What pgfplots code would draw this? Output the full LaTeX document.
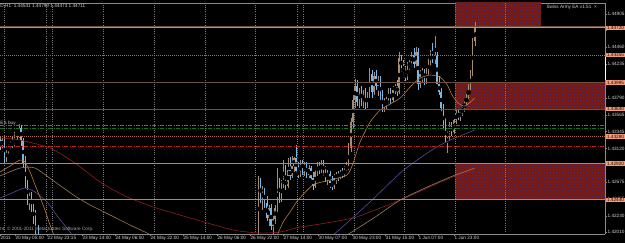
\documentclass[border=0pt]{standalone}
\usepackage{fontspec}
\setmainfont{Liberation Sans}
\usepackage{pgfplots}
\pgfplotsset{compat=1.18}
\usepackage{pgfplotstable}
\usetikzlibrary{patterns}

\definecolor{bull}{HTML}{A88C70}
\definecolor{bear}{HTML}{78B8E8}
\definecolor{axisgray}{HTML}{8A8A8A}
\definecolor{ticktext}{HTML}{D0D0D0}
\definecolor{gridgray}{HTML}{7A7A7A}
\definecolor{zonered}{HTML}{7A180C}
\definecolor{zonedot}{HTML}{34369A}
\definecolor{lvlbrown}{HTML}{6E4E3C}
\definecolor{lvlsalmon}{HTML}{B48472}
\definecolor{lvlorange}{HTML}{B06A38}
\definecolor{lvlgreen}{HTML}{1E9A1E}
\definecolor{lvlgreentwo}{HTML}{187818}
\definecolor{lvlred}{HTML}{C01E1E}
\definecolor{bidline}{HTML}{8AA6AA}
\definecolor{mafast}{HTML}{C07A3A}
\definecolor{mamed}{HTML}{9A7A5E}
\definecolor{mapurple}{HTML}{5A4AA0}
\definecolor{mared}{HTML}{8E1E1E}
\definecolor{hilite}{HTML}{F2A07C}

\newcommand\tf{\fontsize{4.7}{5}\selectfont}

\pgfplotstableread{
k o h l c
0 1.43206 1.43272 1.43100 1.43153
1 1.43153 1.43259 1.43074 1.43232
2 1.43232 1.43286 1.42915 1.42968
3 1.42968 1.43153 1.42942 1.43100
4 1.43100 1.43179 1.43047 1.43139
5 1.43139 1.43219 1.43100 1.43192
6 1.43192 1.43286 1.43126 1.43166
7 1.43166 1.43339 1.43139 1.43286
8 1.43286 1.43391 1.43232 1.43339
9 1.43339 1.43444 1.43259 1.43391
10 1.43391 1.43431 1.43153 1.43232
11 1.43232 1.43259 1.42861 1.42915
12 1.42915 1.43021 1.42597 1.42650
13 1.42650 1.42703 1.42372 1.42438
14 1.42438 1.42544 1.42306 1.42491
15 1.42491 1.42544 1.42280 1.42332
16 1.42332 1.42385 1.42120 1.42173
17 1.42173 1.42306 1.41909 1.41962
18 1.41962 1.42107 1.41776 1.41843
123 1.41962 1.42756 1.41949 1.42677
124 1.42677 1.42729 1.42398 1.42451
125 1.42451 1.42624 1.42306 1.42557
126 1.42557 1.42597 1.42332 1.42398
127 1.42398 1.42491 1.42160 1.42200
128 1.42200 1.42372 1.42094 1.42332
129 1.42332 1.42385 1.42041 1.42094
130 1.42094 1.42240 1.41988 1.42186
131 1.42186 1.42372 1.42120 1.42332
132 1.42332 1.42861 1.42280 1.42677
133 1.42677 1.42729 1.42398 1.42464
134 1.42464 1.42703 1.42412 1.42650
135 1.42650 1.42968 1.42597 1.42703
136 1.42703 1.42902 1.42570 1.42624
137 1.42624 1.42994 1.42597 1.42835
138 1.42835 1.43007 1.42703 1.42756
139 1.42756 1.43021 1.42729 1.42888
140 1.42888 1.43007 1.42809 1.42994
141 1.42994 1.43166 1.42782 1.42822
142 1.42822 1.42942 1.42729 1.42769
143 1.42769 1.42968 1.42742 1.42942
144 1.42942 1.42968 1.42769 1.42835
145 1.42835 1.42942 1.42756 1.42902
146 1.42902 1.42942 1.42729 1.42769
147 1.42769 1.42902 1.42729 1.42861
148 1.42861 1.42888 1.42677 1.42729
149 1.42729 1.42809 1.42570 1.42624
150 1.42624 1.42861 1.42597 1.42809
151 1.42809 1.42942 1.42756 1.42888
152 1.42888 1.42942 1.42782 1.42835
153 1.42835 1.42968 1.42796 1.42915
154 1.42915 1.42968 1.42756 1.42809
155 1.42809 1.42888 1.42677 1.42729
156 1.42729 1.42835 1.42637 1.42782
157 1.42782 1.42822 1.42597 1.42663
158 1.42663 1.42756 1.42570 1.42610
159 1.42610 1.42782 1.42584 1.42729
160 1.42729 1.42809 1.42650 1.42769
161 1.42769 1.42822 1.42690 1.42742
162 1.42742 1.42835 1.42716 1.42809
163 1.42809 1.42861 1.42729 1.42769
164 1.42769 1.42888 1.42742 1.42848
165 1.42848 1.42942 1.42796 1.42888
166 1.42888 1.43192 1.42835 1.43126
167 1.43126 1.43524 1.43074 1.43471
168 1.43471 1.43828 1.43391 1.43762
169 1.43762 1.44040 1.43656 1.43947
170 1.43947 1.44027 1.43683 1.43736
171 1.43736 1.43921 1.43656 1.43868
172 1.43868 1.43947 1.43683 1.43762
173 1.43762 1.43894 1.43656 1.43828
174 1.43828 1.43921 1.43630 1.43696
175 1.43696 1.43868 1.43656 1.43828
176 1.43828 1.44186 1.43788 1.44106
177 1.44106 1.44159 1.43788 1.43868
178 1.43868 1.44133 1.43828 1.44080
179 1.44080 1.44159 1.43894 1.43947
180 1.43947 1.44080 1.43815 1.44027
181 1.44027 1.44080 1.43736 1.43788
182 1.43788 1.43894 1.43603 1.43683
183 1.43683 1.43788 1.43603 1.43722
184 1.43722 1.43815 1.43630 1.43762
185 1.43762 1.43921 1.43709 1.43868
186 1.43868 1.43921 1.43709 1.43762
187 1.43762 1.43947 1.43736 1.43894
188 1.43894 1.43974 1.43841 1.43934
189 1.43934 1.44027 1.43815 1.43868
190 1.43868 1.44398 1.43841 1.44318
191 1.44318 1.44358 1.44133 1.44186
192 1.44186 1.44292 1.44080 1.44120
193 1.44120 1.44212 1.44014 1.44053
194 1.44053 1.44265 1.44027 1.44212
195 1.44212 1.44292 1.44120 1.44252
196 1.44252 1.44398 1.44199 1.44358
197 1.44358 1.44450 1.44186 1.44239
198 1.44239 1.44464 1.44159 1.44398
199 1.44398 1.44450 1.43894 1.43974
200 1.43974 1.44159 1.43921 1.44106
201 1.44106 1.44186 1.44000 1.44146
202 1.44146 1.44173 1.43961 1.44027
203 1.44027 1.44186 1.43974 1.44133
204 1.44133 1.44318 1.44093 1.44265
205 1.44265 1.44424 1.44212 1.44371
206 1.44371 1.44517 1.44252 1.44292
207 1.44292 1.44609 1.44239 1.44358
208 1.44358 1.44398 1.43921 1.43974
209 1.43974 1.44080 1.43828 1.43868
210 1.43868 1.43921 1.43617 1.43656
211 1.43656 1.43709 1.43352 1.43391
212 1.43391 1.43524 1.43206 1.43259
213 1.43259 1.43391 1.43060 1.43339
214 1.43339 1.43471 1.43232 1.43418
215 1.43418 1.43471 1.43286 1.43339
216 1.43339 1.43550 1.43312 1.43497
217 1.43497 1.43630 1.43444 1.43577
218 1.43577 1.43630 1.43497 1.43537
219 1.43537 1.43656 1.43484 1.43603
220 1.43603 1.43683 1.43550 1.43656
221 1.43656 1.43762 1.43603 1.43722
222 1.43722 1.43841 1.43683 1.43802
223 1.43802 1.43974 1.43762 1.43921
224 1.43921 1.44159 1.43894 1.44106
225 1.44106 1.44583 1.44080 1.44541
226 1.44541 1.44799 1.44473 1.44711
}\candles

\begin{document}
\begin{tikzpicture}
\useasboundingbox (0pt,0pt) rectangle (625pt,243pt);
\fill[black] (0pt,0pt) rectangle (625pt,243pt);
\begin{axis}[
  at={(0pt,9pt)}, anchor=south west,
  scale only axis, width=605pt, height=231pt,
  xmin=0, xmax=288, ymin=1.41988, ymax=1.45047,
  axis background/.style={fill=black},
  separate axis lines,
  axis x line*=box, axis y line*=right,
  axis line style={draw=axisgray, line width=0.6pt},
  xtick pos=left, ytick pos=right, yticklabel pos=right,
  tick align=outside, major tick length=2pt,
  tick style={draw=axisgray, line width=0.4pt},
  xtick={0,7.1,22.4,39.0,54.7,71.4,87.1,103.3,119.0,134.7,151.4,167.6,183.3,199.0,216.1},
  xticklabels={2011,20 May 05:00,22 May 23:15,23 May 14:00,24 May 06:00,24 May 22:00,25 May 14:00,26 May 06:00,26 May 22:00,27 May 14:00,30 May 07:00,30 May 23:00,31 May 15:00,1 Jun 07:00,1 Jun 23:00},
  ytick={1.42010,1.42230,1.42455,1.42675,1.43120,1.43345,1.43565,1.43790,1.44235,1.44460,1.44905},
  yticklabels={1.42010,1.42230,1.42455,1.42675,1.43120,1.43345,1.43565,1.43790,1.44235,1.44460,1.44905},
  extra y ticks={1.42900,1.44015,1.44685},
  extra y tick labels={},
  ticklabel style={font=\tf, text=ticktext, inner sep=0.4pt},
  xticklabel style={anchor=north west},
  yticklabel style={anchor=west},
  scaled y ticks=false,
  clip mode=individual,
]
% zones
\addplot[draw=none, fill=zonered, postaction={pattern=crosshatch dots, pattern color=zonedot}] coordinates {(216.7,1.4510) (257.6,1.4510) (257.6,1.44720) (216.7,1.44720)};
\addplot[draw=none, fill=zonered, postaction={pattern=crosshatch dots, pattern color=zonedot}] coordinates {(216.7,1.43995) (288,1.43995) (288,1.43640) (216.7,1.43640)};
\addplot[draw=none, fill=zonered, postaction={pattern=crosshatch dots, pattern color=zonedot}] coordinates {(216.7,1.42920) (288,1.42920) (288,1.42440) (216.7,1.42440)};
% vertical grid
\pgfplotsinvokeforeach{1.9,21.9,24.8,49.0,73.3,97.6,121.4,141.4,144.3,168.6,192.4,216.7,240.5}{
  \addplot[draw=gridgray, line width=0.5pt, dash pattern=on 1pt off 1.2pt] coordinates {(#1,1.40) (#1,1.46)};
}
% candles: wicks
\addplot[only marks, mark=none, error bars/.cd, y dir=both, y explicit, error mark=none,
  error bar style={draw=bull, line width=0.5pt}]
  table[x=k, y expr={\thisrow{c}>=\thisrow{o} ? 0.5*(\thisrow{h}+\thisrow{l}) : nan}, y error expr={0.5*(\thisrow{h}-\thisrow{l})}] {\candles};
\addplot[only marks, mark=none, error bars/.cd, y dir=both, y explicit, error mark=none,
  error bar style={draw=bear, line width=0.5pt}]
  table[x=k, y expr={\thisrow{c}<\thisrow{o} ? 0.5*(\thisrow{h}+\thisrow{l}) : nan}, y error expr={0.5*(\thisrow{h}-\thisrow{l})}] {\candles};
% candles: bodies
\addplot[only marks, mark=none, error bars/.cd, y dir=both, y explicit, error mark=none,
  error bar style={draw=bull, line width=1.4pt}]
  table[x=k, y expr={\thisrow{c}>=\thisrow{o} ? 0.5*(\thisrow{o}+\thisrow{c}) : nan}, y error expr={0.5*abs(\thisrow{c}-\thisrow{o})+0.000015}] {\candles};
\addplot[only marks, mark=none, error bars/.cd, y dir=both, y explicit, error mark=none,
  error bar style={draw=bear, line width=1.4pt}]
  table[x=k, y expr={\thisrow{c}<\thisrow{o} ? 0.5*(\thisrow{o}+\thisrow{c}) : nan}, y error expr={0.5*abs(\thisrow{c}-\thisrow{o})}] {\candles};
% moving averages
\addplot[mared, line width=0.6pt, smooth, tension=0.4] coordinates {(0,1.43259)(9.5,1.43232)(23.8,1.43126)(35.7,1.42928)(47.6,1.42677)(59.5,1.42491)(72.9,1.42346)(90.5,1.42200)(111,1.42041)(123.8,1.42001)(133.3,1.42014)(142.9,1.42080)(152.4,1.42120)(168.1,1.42200)(178.6,1.42306)(190.5,1.42438)(202.4,1.42584)(214.3,1.42729)(226,1.42835)};
\addplot[mamed, line width=0.6pt, smooth, tension=0.4] coordinates {(0,1.42756)(9.5,1.42861)(16.7,1.42861)(26.2,1.42677)(35.7,1.42491)(42.9,1.42372)(52.4,1.42240)(61.9,1.42107)(70,1.42001)(76.2,1.41909)};
\addplot[mamed, line width=0.6pt, smooth, tension=0.4] coordinates {(161.9,1.41909)(166.7,1.42001)(178.6,1.42213)(190.5,1.42438)(202.4,1.42597)(214.3,1.42742)(226,1.42861)};
\addplot[mapurple, line width=0.6pt, smooth, tension=0.4] coordinates {(0,1.42464)(5.7,1.42531)(11.9,1.42597)(16.7,1.42544)(22.4,1.42412)(27.6,1.42213)(33.3,1.42014)(35.7,1.41909)};
\addplot[mapurple, line width=0.6pt, smooth, tension=0.4] coordinates {(152.4,1.41842)(158.6,1.41975)(166.7,1.42173)(177.1,1.42438)(190.5,1.42796)(198.6,1.42968)(207.1,1.43126)(214.3,1.43232)(221.4,1.43312)(226,1.43365)};
\addplot[mafast, line width=0.6pt, smooth, tension=0.4] coordinates {(0,1.42809)(4.8,1.42888)(9.5,1.42968)(11.9,1.42942)(14.3,1.42809)(16.7,1.42637)(19,1.42478)(21.4,1.42306)(23.8,1.42107)(26.2,1.41935)};
\addplot[mafast, line width=0.6pt, smooth, tension=0.4] coordinates {(131,1.41909)(134.8,1.42147)(138.1,1.42280)(141.9,1.42438)(149,1.42637)(157.1,1.42703)(165.2,1.42769)(168.1,1.42928)(171.4,1.43206)(176.2,1.43471)(181,1.43630)(185.7,1.43709)(190.5,1.43788)(195.2,1.43934)(200,1.44053)(204.8,1.44093)(209.5,1.44066)(212.9,1.43961)(215.2,1.43828)(218.1,1.43722)(221.4,1.43683)(226,1.43788)};
% level lines
\addplot[lvlbrown, line width=0.6pt] coordinates {(0,1.44734) (288,1.44734)};
\addplot[bidline, line width=0.8pt] coordinates {(0,1.44720) (288,1.44720)};
\addplot[lvlorange, line width=0.6pt, dash pattern=on 1pt off 1pt] coordinates {(0,1.44355) (288,1.44355)};
\addplot[lvlbrown, line width=1.3pt] coordinates {(0,1.43995) (288,1.43995)};
\addplot[lvlbrown, line width=1.3pt] coordinates {(0,1.43640) (288,1.43640)};
\addplot[lvlgreen, line width=0.7pt, dash pattern=on 4pt off 1.5pt on 1pt off 1.5pt] coordinates {(0,1.43431) (288,1.43431)};
\addplot[lvlgreentwo, line width=0.7pt, dash pattern=on 4pt off 1.5pt on 1pt off 1.5pt] coordinates {(0,1.43387) (288,1.43387)};
\addplot[lvlorange, line width=0.6pt, dash pattern=on 1pt off 1pt] coordinates {(0,1.43280) (288,1.43280)};
\addplot[lvlred, line width=0.7pt, dash pattern=on 4pt off 1.5pt on 1pt off 1.5pt] coordinates {(0,1.43149) (288,1.43149)};
\addplot[lvlsalmon, line width=1pt] coordinates {(0,1.42920) (288,1.42920)};
\addplot[lvlsalmon, line width=1pt] coordinates {(0,1.42440) (288,1.42440)};
% texts
\node[anchor=north west, font=\tf, text=ticktext, inner sep=0.3pt] at (rel axis cs:0,0.995) {D,H1\ \ 1.44541 1.44799 1.44473 1.44711};
\node[anchor=west, font=\tf, text=ticktext, inner sep=0.3pt] at (rel axis cs:0.9025,0.982) {Swiss Army EA v1.51\ \ ×};
\node[anchor=west, font=\tf, text=ticktext!80!black, inner sep=0.3pt] at (rel axis cs:0,0.0216) {t4, © 2001-2011 MetaQuotes Software Corp.};
\node[anchor=west, font=\tf, text=ticktext, inner sep=0.3pt] at (rel axis cs:0,0.4805) {ES buy};
\draw[white, line width=0.8pt] (axis cs:288,1.44332) -- (axis cs:288,1.44027);
\pgfplotsinvokeforeach{1.44720,1.44355,1.43995,1.43640,1.43280,1.42920,1.42440}{
  \node[anchor=west, font=\tf, fill=hilite, text=black!85!red, inner sep=0.5pt, minimum width=19pt, xshift=0.8pt] at (axis cs:288,#1) {#1};
}
\end{axis}
\end{tikzpicture}
\end{document}
